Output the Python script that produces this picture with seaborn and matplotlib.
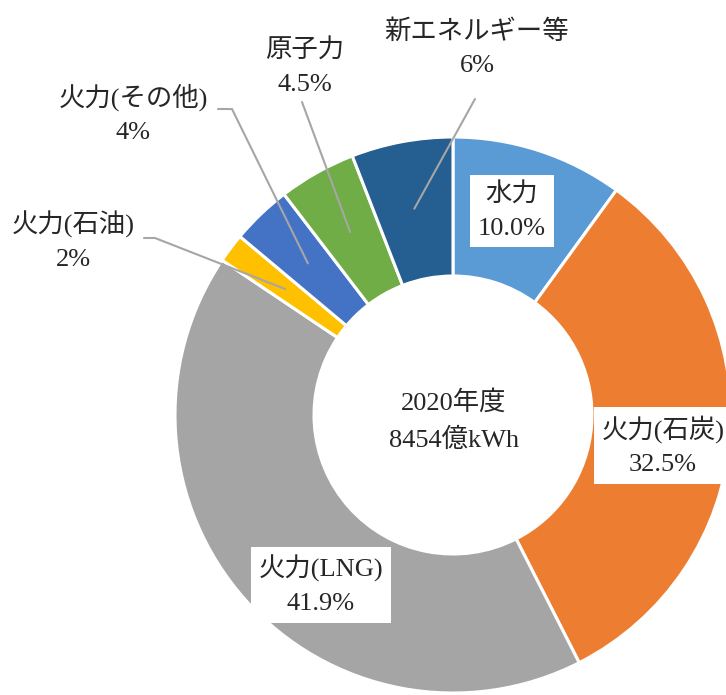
import matplotlib
matplotlib.use('Agg')
import matplotlib.pyplot as plt
import numpy as np
import seaborn as sns

sns.set_theme(style='white')
plt.rcParams['font.family'] = ['Liberation Serif', 'Noto Sans CJK JP']

# 2020年度 電源構成
sources = ['水力', '火力(石炭)', '火力(LNG)', '火力(石油)', '火力(その他)', '原子力', '新エネルギー等']
shares = [10.0, 32.5, 41.9, 1.7, 3.5, 4.5, 5.9]
share_labels = ['10.0%', '32.5%', '41.9%', '2%', '4%', '4.5%', '6%']
colors = ['#5B9BD5', '#ED7D31', '#A5A5A5', '#FFC000', '#4472C4', '#70AD47', '#255E91']
center_text = '2020年度\n8454億kWh'

W, H = 726, 695
CX, CY, R = 453, 415, 278   # 円の中心と半径 (px)


def px(x, y):
    # ピクセル座標 -> データ座標
    return (x - CX) / R, (CY - y) / R


fig = plt.figure(figsize=(W / 100, H / 100), dpi=100)
ax = fig.add_axes([0, 0, 1, 1])
wedges, _ = ax.pie(shares, colors=colors, startangle=90, counterclock=False,
                   radius=1.0, wedgeprops=dict(width=0.5, edgecolor='white', linewidth=2.2))
ax.set_xlim((0 - CX) / R, (W - CX) / R)
ax.set_ylim((CY - H) / R, CY / R)
ax.set_aspect('equal')
ax.axis('off')

fs = 19
ls = 1.65
box = dict(boxstyle='square,pad=0.3', fc='white', ec='none')

# 内側ラベル (白枠付き)
inside = {0: (512, 211), 1: (663, 446), 2: (321, 585)}
for i, (x, y) in inside.items():
    ax.text(*px(x, y), f'{sources[i]}\n{share_labels[i]}', ha='center', va='center',
            fontsize=fs, bbox=box, linespacing=ls, zorder=5)

# 外側ラベル + 引き出し線
outside = {
    3: ((73, 241), [(155, 238), (144, 238)]),
    4: ((133, 114), [(232, 109), (218, 109)]),
    5: ((305, 67), [(302, 102)]),
    6: ((477, 48), [(475, 99)]),
}
cum = np.cumsum([0] + shares)
total = sum(shares)
for i, (tpos, pts) in outside.items():
    mid = (cum[i] + shares[i] / 2) / total * 2 * np.pi
    sx, sy = 0.755 * np.sin(mid), 0.755 * np.cos(mid)
    xs = [sx] + [px(*p)[0] for p in pts]
    ys = [sy] + [px(*p)[1] for p in pts]
    ax.plot(xs, ys, color='#A6A6A6', lw=1.5, zorder=4)
    ax.text(*px(*tpos), f'{sources[i]}\n{share_labels[i]}', ha='center', va='center',
            fontsize=fs, linespacing=ls)

ax.text(*px(454, 421), center_text, ha='center', va='center', fontsize=fs, linespacing=ls)

fig.savefig('out.png', dpi=100)
